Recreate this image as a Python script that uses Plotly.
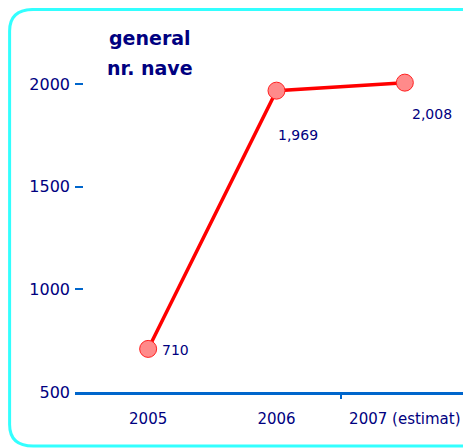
import plotly.graph_objects as go

categories = ["2005", "2006", "2007 (estimat)"]
values = [710, 1969, 2008]
value_labels = ["710", "1,969", "2,008"]
y_ticks = [500, 1000, 1500, 2000]

NAVY = "#000080"
BLUE = "#0066CC"
FONT = "DejaVu Sans"

fig = go.Figure()
fig.add_trace(go.Scatter(
    x=list(range(len(categories))), y=values, mode="lines+markers",
    line=dict(color="#FF0000", width=3.5),
    marker=dict(symbol="circle", size=17, color="#FF8A8A", line=dict(color="#FF2020", width=1)),
    hoverinfo="skip", showlegend=False,
))

offsets = [(27, -1), (22, -44), (27, -31)]
for i, (v, t, (dx, dy)) in enumerate(zip(values, value_labels, offsets)):
    fig.add_annotation(x=i, y=v, text=t, showarrow=False, xshift=dx, yshift=dy,
                       font=dict(family=FONT, size=14, color=NAVY))

fig.add_annotation(xref="paper", yref="paper", x=0.081, y=0.986, xanchor="left", yanchor="middle",
                   text="<b>general</b>", showarrow=False,
                   font=dict(family=FONT, size=19, color=NAVY))
fig.add_annotation(xref="paper", yref="paper", x=0.076, y=0.9025, xanchor="left", yanchor="middle",
                   text="<b>nr. nave</b>", showarrow=False,
                   font=dict(family=FONT, size=19, color=NAVY))

# rounded cyan frame (paper coords)
L, R, T, B = -0.166, 1.0025, 1.0655, -0.1504
rx, ry = 0.06, 0.06
path = (f"M {L+rx} {T} L {R-0.02} {T} Q {R} {T} {R} {T-0.02} L {R} {B+0.02} Q {R} {B} {R-0.02} {B} "
        f"L {L+rx} {B} Q {L} {B} {L} {B+ry} L {L} {T-ry} Q {L} {T} {L+rx} {T} Z")
fig.add_shape(type="path", xref="paper", yref="paper", path=path,
              line=dict(color="#33FFFF", width=3), layer="below")

fig.update_layout(
    width=463, height=440,
    margin=dict(l=67, r=2, t=25, b=56),
    paper_bgcolor="white", plot_bgcolor="white",
    font=dict(family=FONT, size=15, color=NAVY),
    xaxis=dict(range=[-0.57, 2.5], tickvals=[0, 1, 2], ticktext=categories,
               showgrid=False, zeroline=False,
               showline=True, linecolor=BLUE, linewidth=3, ticks=""),
    yaxis=dict(range=[500, 2250], tickvals=y_ticks, showgrid=False, zeroline=False,
               showline=False, ticks="inside", ticklen=8, tickcolor=BLUE, tickwidth=2,
               ticklabelstandoff=4, tickfont=dict(color=NAVY, size=16)),
)
# boundary ticks on the x axis
fig.update_xaxes(minor=dict(tickvals=[1.5, 2.5], ticks="outside", ticklen=4,
                            tickcolor=BLUE, tickwidth=2, showgrid=False),
                 ticklabelstandoff=11, tickfont=dict(color=NAVY, size=15))

fig.write_html("out.html")
